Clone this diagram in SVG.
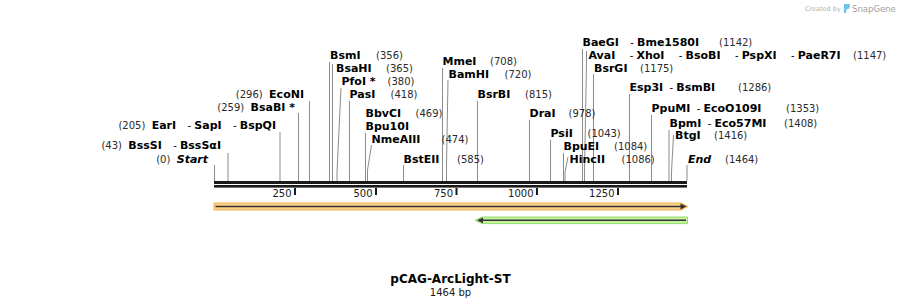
<svg xmlns="http://www.w3.org/2000/svg" width="902" height="308" viewBox="0 0 902 308">
<style>
text{font-family:"DejaVu Sans",Verdana,sans-serif;font-size:10px;fill:#000;white-space:pre}
.b{font-weight:bold;font-size:11px}
.bi{font-weight:bold;font-style:italic;font-size:11px}
.num{fill:#2a2a2a;font-size:10px}
.conn polyline{stroke:#8c8c8c;stroke-width:1;fill:none}
.tick{fill:#1a1a1a}
.axis{font-size:10px;fill:#1a1a1a}
</style>
<rect width="902" height="308" fill="#fff"/>
<g id="watermark">
<text x="805" y="11" style="font-size:6.5px;fill:#b0b0b0">Created by</text>
<path d="M844 4 L848.5 4 Q850.5 4 850 6.5 L848.5 9 L846.5 9 L846 13 L844 13 Z" fill="#6cc3f2"/>
<text x="852" y="11.5" style="font-size:8.5px;fill:#a0a0a0">SnapGene</text>
</g>
<g id="backbone">
<rect x="214" y="181" width="473" height="3" fill="#1a1a1a"/>
<rect x="214" y="185" width="473" height="2.6" fill="#1a1a1a"/>
<rect class="tick" x="294" y="188" width="2" height="7"/>
<rect class="tick" x="375" y="188" width="2" height="7"/>
<rect class="tick" x="455.5" y="188" width="2" height="7"/>
<rect class="tick" x="536" y="188" width="2" height="7"/>
<rect class="tick" x="617" y="188" width="2" height="7"/>
<text class="axis" x="291.5" y="197" text-anchor="end">250</text>
<text class="axis" x="372.5" y="197" text-anchor="end">500</text>
<text class="axis" x="453" y="197" text-anchor="end">750</text>
<text class="axis" x="533.5" y="197" text-anchor="end">1000</text>
<text class="axis" x="614.5" y="197" text-anchor="end">1250</text>
</g>
<g id="feature-orange">
<polygon points="214,203 681,203 688,206.5 681,210 214,210" fill="#fbd08a" stroke="#f4b350" stroke-width="1"/>
<line x1="215.5" y1="206.5" x2="682" y2="206.5" stroke="#333" stroke-width="1.6"/>
<polygon points="680.5,203.6 686.5,206.5 680.5,209.4" fill="#333"/>
</g>
<g id="feature-green">
<polygon points="687.5,217 482,217 475,220.3 482,223.6 687.5,223.6" fill="#c2f2a0" stroke="#95dc62" stroke-width="1"/>
<line x1="481" y1="220.3" x2="686" y2="220.3" stroke="#333" stroke-width="1.6"/>
<polygon points="483,217.4 477,220.3 483,223.2" fill="#333"/>
</g>
<g class="conn" id="connectors">
<polyline points="214.5,165 214.5,181"/>
<polyline points="228,153 228,181"/>
<polyline points="280,132 280,181"/>
<polyline points="298.5,113 298.5,181"/>
<polyline points="309.5,101 309.5,181"/>
<polyline points="329.5,62 329.5,181"/>
<polyline points="332.5,64 332.5,181"/>
<polyline points="341,88 337,172 337,181"/>
<polyline points="349.5,101 349.5,181"/>
<polyline points="365.5,133 365.5,181"/>
<polyline points="371.5,145 367.5,170 367.5,181"/>
<polyline points="403.5,165 403.5,181"/>
<polyline points="442.5,68 442.5,181"/>
<polyline points="448,80 446.5,165 446.5,181"/>
<polyline points="477.5,101 477.5,181"/>
<polyline points="529.5,120 529.5,181"/>
<polyline points="550.5,140 550.5,181"/>
<polyline points="563.5,153 563.5,181"/>
<polyline points="568,157 565,172 565,181"/>
<polyline points="582.5,49 582.5,181"/>
<polyline points="586.5,51 586.5,62 584.5,172 584.5,181"/>
<polyline points="593.5,74 593.5,181"/>
<polyline points="629.5,94 629.5,181"/>
<polyline points="651.5,115 651.5,181"/>
<polyline points="669,130 669,181"/>
<polyline points="673.5,135 671.5,172 671.5,181"/>
<polyline points="687,165 687,181"/>
</g>
<g id="start"><text xml:space="preserve" x="208" y="163" text-anchor="end"><tspan class="num">(0)  </tspan><tspan class="bi">Start</tspan></text></g>
<g id="bsssi"><text xml:space="preserve" x="221" y="149" text-anchor="end"><tspan class="num">(43)  </tspan><tspan class="b">BssSI</tspan><tspan dx="5">  - </tspan><tspan class="b">BssSαI</tspan></text></g>
<g id="eari"><text xml:space="preserve" x="276" y="129" text-anchor="end"><tspan class="num">(205)  </tspan><tspan class="b">EarI</tspan><tspan dx="5">  - </tspan><tspan class="b">SapI</tspan><tspan dx="5">  - </tspan><tspan class="b">BspQI</tspan></text></g>
<g id="bsabi"><text xml:space="preserve" x="295" y="111" text-anchor="end"><tspan class="num">(259)  </tspan><tspan class="b">BsaBI *</tspan></text></g>
<g id="econi"><text xml:space="preserve" x="304" y="98" text-anchor="end"><tspan class="num">(296)  </tspan><tspan class="b">EcoNI</tspan></text></g>
<g id="bsmi"><text x="330" y="59"><tspan class="b">BsmI</tspan><tspan class="num" x="376">(356)</tspan></text></g>
<g id="bsahi"><text x="336" y="72"><tspan class="b">BsaHI</tspan><tspan class="num" x="386">(365)</tspan></text></g>
<g id="pfoi"><text x="341.5" y="85"><tspan class="b">PfoI *</tspan><tspan class="num" x="387.5">(380)</tspan></text></g>
<g id="pasi"><text x="349.5" y="97.5"><tspan class="b">PasI</tspan><tspan class="num" x="390.5">(418)</tspan></text></g>
<g id="bbvci"><text x="365.5" y="116.5"><tspan class="b">BbvCI</tspan><tspan class="num" x="415.5">(469)</tspan></text></g>
<g id="bpu10i"><text x="365.5" y="130"><tspan class="b">Bpu10I</tspan></text></g>
<g id="nmeaiii"><text x="371.5" y="142.5"><tspan class="b">NmeAIII</tspan><tspan class="num" x="441.5">(474)</tspan></text></g>
<g id="bsteii"><text x="403.5" y="162.7"><tspan class="b">BstEII</tspan><tspan class="num" x="457">(585)</tspan></text></g>
<g id="mmei"><text x="442.5" y="65"><tspan class="b">MmeI</tspan><tspan class="num" x="490">(708)</tspan></text></g>
<g id="bamhi"><text x="448.5" y="77.7"><tspan class="b">BamHI</tspan><tspan class="num" x="504.5">(720)</tspan></text></g>
<g id="bsrbi"><text x="477.5" y="98.3"><tspan class="b">BsrBI</tspan><tspan class="num" x="525">(815)</tspan></text></g>
<g id="drai"><text x="529.5" y="116.7"><tspan class="b">DraI</tspan><tspan class="num" x="568.5">(978)</tspan></text></g>
<g id="psii"><text x="550.5" y="137.3"><tspan class="b">PsiI</tspan><tspan class="num" x="587.5">(1043)</tspan></text></g>
<g id="bpuei"><text x="563.5" y="150"><tspan class="b">BpuEI</tspan><tspan class="num" x="614">(1084)</tspan></text></g>
<g id="hincii"><text x="569.5" y="162.7"><tspan class="b">HincII</tspan><tspan class="num" x="621.5">(1086)</tspan></text></g>
<g id="baegi"><text xml:space="preserve" x="582.5" y="46"><tspan class="b">BaeGI</tspan><tspan dx="5">  - </tspan><tspan class="b">Bme1580I</tspan><tspan class="num" x="719">(1142)</tspan></text></g>
<g id="avai"><text xml:space="preserve" x="588.5" y="59"><tspan class="b">AvaI</tspan><tspan dx="8">  - </tspan><tspan class="b">XhoI</tspan><tspan dx="8">  - </tspan><tspan class="b">BsoBI</tspan><tspan dx="8">  - </tspan><tspan class="b">PspXI</tspan><tspan dx="8">  - </tspan><tspan class="b">PaeR7I</tspan><tspan class="num" x="853">(1147)</tspan></text></g>
<g id="bsrgi"><text x="594" y="71.7"><tspan class="b">BsrGI</tspan><tspan class="num" x="640">(1175)</tspan></text></g>
<g id="esp3i"><text xml:space="preserve" x="629.5" y="90.7"><tspan class="b">Esp3I</tspan>  - <tspan class="b">BsmBI</tspan><tspan class="num" x="738">(1286)</tspan></text></g>
<g id="ppumi"><text xml:space="preserve" x="651.5" y="111.7"><tspan class="b">PpuMI</tspan>  - <tspan class="b">EcoO109I</tspan><tspan class="num" x="786">(1353)</tspan></text></g>
<g id="bpmi"><text xml:space="preserve" x="669.5" y="126.7"><tspan class="b">BpmI</tspan>  - <tspan class="b">Eco57MI</tspan><tspan class="num" x="784">(1408)</tspan></text></g>
<g id="btgi"><text x="675" y="139"><tspan class="b">BtgI</tspan><tspan class="num" x="714">(1416)</tspan></text></g>
<g id="end"><text x="688" y="162.7"><tspan class="bi">End</tspan><tspan class="num" x="725">(1464)</tspan></text></g>
<g id="title">
<text x="450.5" y="282.5" text-anchor="middle" style="font-size:12px;font-weight:bold">pCAG-ArcLight-ST</text>
<text x="450.5" y="295.5" text-anchor="middle" style="font-size:10px;fill:#1a1a1a">1464 bp</text>
</g>
</svg>
